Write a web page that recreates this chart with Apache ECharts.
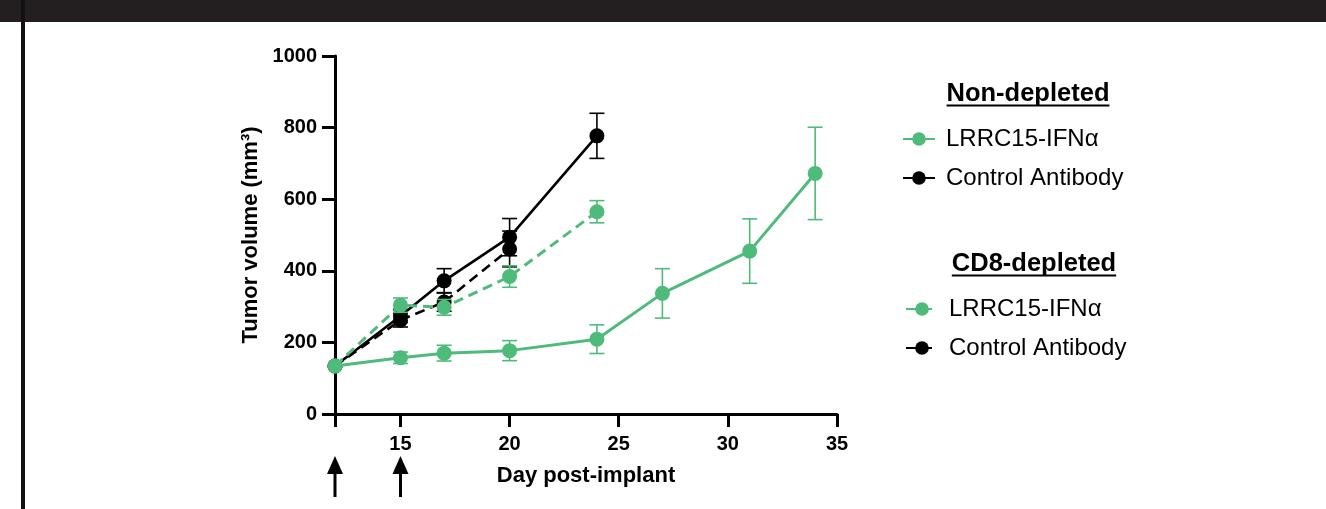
<!DOCTYPE html>
<html>
<head>
<meta charset="utf-8">
<script src="https://cdn.jsdelivr.net/npm/echarts@6/dist/echarts.min.js"></script>
<style>
  html, body { margin: 0; padding: 0; background: #fff; }
  #chart { width: 1326px; height: 509px; }
</style>
</head>
<body>
<div id="chart"></div>
<script>
// ---------- data ----------
const xTickValues = [12, 15, 20, 25, 30, 35];
const xLabelValues = [15, 20, 25, 30, 35];
const arrowDays = [12, 15];

const ndLrrcDays = [12, 15, 17, 20, 24, 27, 31, 34];
const ndLrrcMean = [134, 157, 170, 177, 209, 337, 455, 672];
const ndLrrcErr  = [0, 16, 22, 28, 40, 69, 90, 129];

const ndCtrlDays = [12, 15, 17, 20, 24];
const ndCtrlMean = [134, 274, 372, 494, 777];
const ndCtrlErr  = [0, 18, 34, 52, 63];

const cd8LrrcDays = [12, 15, 17, 20, 24];
const cd8LrrcMean = [134, 304, 298, 384, 565];
const cd8LrrcErr  = [0, 20, 22, 30, 31];

const cd8CtrlDays = [12, 15, 17, 20];
const cd8CtrlMean = [134, 262, 313, 461];
const cd8CtrlErr  = [0, 19, 26, 50];

const headingNon = 'Non-depleted';
const headingCd8 = 'CD8-depleted';
const nameNdLrrc = 'Non-depleted LRRC15-IFNα';
const nameNdCtrl = 'Non-depleted Control Antibody';
const nameCdLrrc = 'CD8-depleted LRRC15-IFNα';
const nameCdCtrl = 'CD8-depleted Control Antibody';

// ---------- style ----------
const GREEN = '#4fbb7b';
const BLACK = '#000000';
const FONT = '"Liberation Sans", Arial, Helvetica, sans-serif';

function pts(days, mean) { return days.map((d, i) => [d, mean[i]]); }
function errs(days, mean, err) {
  return days.map((d, i) => [d, mean[i] - err[i], mean[i] + err[i]]);
}

function errSeries(days, mean, err, color, z) {
  return {
    type: 'custom',
    z: z,
    silent: true,
    data: errs(days, mean, err),
    encode: { x: 0, y: [1, 2] },
    renderItem: function (params, api) {
      const x = api.value(0), lo = api.value(1), hi = api.value(2);
      if (hi - lo <= 0) return null;
      const p1 = api.coord([x, hi]);
      const p2 = api.coord([x, lo]);
      const w = 7.5;
      const st = { stroke: color, lineWidth: 1.6 };
      return {
        type: 'group',
        children: [
          { type: 'line', shape: { x1: p1[0], y1: p1[1], x2: p2[0], y2: p2[1] }, style: st },
          { type: 'line', shape: { x1: p1[0] - w, y1: p1[1], x2: p1[0] + w, y2: p1[1] }, style: st },
          { type: 'line', shape: { x1: p2[0] - w, y1: p2[1], x2: p2[0] + w, y2: p2[1] }, style: st }
        ]
      };
    }
  };
}

function lineSeries(name, days, mean, color, dashed, width, z) {
  return {
    name: name,
    type: 'line',
    z: z,
    data: pts(days, mean),
    symbol: 'circle',
    symbolSize: 15,
    showSymbol: true,
    itemStyle: { color: color },
    lineStyle: { color: color, width: width, type: dashed ? [10, 6] : 'solid' },
    emphasis: { disabled: true },
    animation: false
  };
}

const chart = echarts.init(document.getElementById('chart'), null, { renderer: 'canvas' });

const legendCommon = {
  orient: 'vertical',
  itemWidth: 32,
  itemHeight: 17,
  itemGap: 13,
  selectedMode: false,
  formatter: function (n) { return n.replace(/^(Non-depleted|CD8-depleted) /, ''); },
  textStyle: { fontFamily: FONT, fontSize: 24, color: '#000', lineHeight: 26, padding: [0, 0, 0, 6] }
};

const option = {
  backgroundColor: '#ffffff',
  animation: false,
  grid: { left: 335, right: 489, top: 56, bottom: 95, containLabel: false },
  legend: [
    Object.assign({ data: [nameNdLrrc, nameNdCtrl], left: 897, top: 121 }, legendCommon),
    Object.assign({ data: [nameCdLrrc, nameCdCtrl], left: 900, top: 291 }, legendCommon)
  ],
  xAxis: {
    type: 'value',
    min: 12,
    max: 35,
    name: 'Day post-implant',
    nameLocation: 'middle',
    nameGap: 51,
    nameTextStyle: { fontFamily: FONT, fontSize: 22, fontWeight: 'bold', color: '#000' },
    axisLine: { onZero: false, lineStyle: { color: '#000', width: 3 } },
    axisTick: { show: true, length: 13, lineStyle: { color: '#000', width: 3 }, customValues: xTickValues },
    axisLabel: { fontFamily: FONT, fontSize: 20, fontWeight: 'bold', color: '#000', margin: 20, customValues: xLabelValues },
    splitLine: { show: false }
  },
  yAxis: {
    type: 'value',
    min: 0,
    max: 1000,
    interval: 200,
    name: 'Tumor volume (mm³)',
    nameLocation: 'middle',
    nameGap: 73,
    nameTextStyle: { fontFamily: FONT, fontSize: 22, fontWeight: 'bold', color: '#000' },
    axisLine: { show: true, lineStyle: { color: '#000', width: 3 } },
    axisTick: { show: true, length: 13, lineStyle: { color: '#000', width: 3 } },
    axisLabel: { fontFamily: FONT, fontSize: 20, fontWeight: 'bold', color: '#000', margin: 18,
                 formatter: function (v) { return String(v); } },
    splitLine: { show: false }
  },
  series: [
    errSeries(cd8CtrlDays, cd8CtrlMean, cd8CtrlErr, BLACK, 1),
    lineSeries(nameCdCtrl, cd8CtrlDays, cd8CtrlMean, BLACK, true, 2.6, 2),
    errSeries(ndCtrlDays, ndCtrlMean, ndCtrlErr, BLACK, 3),
    lineSeries(nameNdCtrl, ndCtrlDays, ndCtrlMean, BLACK, false, 2.6, 4),
    errSeries(cd8LrrcDays, cd8LrrcMean, cd8LrrcErr, GREEN, 5),
    lineSeries(nameCdLrrc, cd8LrrcDays, cd8LrrcMean, GREEN, true, 3, 6),
    errSeries(ndLrrcDays, ndLrrcMean, ndLrrcErr, GREEN, 7),
    lineSeries(nameNdLrrc, ndLrrcDays, ndLrrcMean, GREEN, false, 3, 8)
  ]
};

chart.setOption(option);

// ---------- decorations, headings and arrows ----------
function textWidth(txt, font) {
  const c = document.createElement('canvas').getContext('2d');
  c.font = font;
  return c.measureText(txt).width;
}
const headFont = 'bold 25.5px ' + FONT;
const wNon = textWidth(headingNon, headFont);
const wCd8 = textWidth(headingCd8, headFont);
const headings = [
  { text: headingNon, cx: 1028, cy: 94, w: wNon },
  { text: headingCd8, cx: 1034, cy: 264, w: wCd8 }
];

const graphics = [
  { type: 'rect', left: 0, top: 0, shape: { width: 1326, height: 22 }, style: { fill: '#231f20' }, silent: true },
  { type: 'rect', left: 21, top: 0, shape: { width: 4, height: 509 }, style: { fill: '#111111' }, silent: true }
];
headings.forEach(h => {
  graphics.push({
    type: 'text', x: h.cx, y: h.cy, silent: true,
    style: { text: h.text, font: headFont, fill: '#000', align: 'center', verticalAlign: 'middle' }
  });
  graphics.push({
    type: 'rect', x: h.cx - h.w / 2, y: h.cy + 10.5, silent: true,
    shape: { width: h.w, height: 2 }, style: { fill: '#000' }
  });
});
arrowDays.forEach(d => {
  const px = chart.convertToPixel({ gridIndex: 0 }, [d, 0])[0];
  graphics.push({
    type: 'polygon', silent: true,
    shape: { points: [[px, 456], [px - 8, 474], [px + 8, 474]] },
    style: { fill: '#000' }
  });
  graphics.push({
    type: 'rect', silent: true,
    shape: { x: px - 1.5, y: 472, width: 3, height: 25 },
    style: { fill: '#000' }
  });
});
chart.setOption({ graphic: graphics });
</script>
</body>
</html>
